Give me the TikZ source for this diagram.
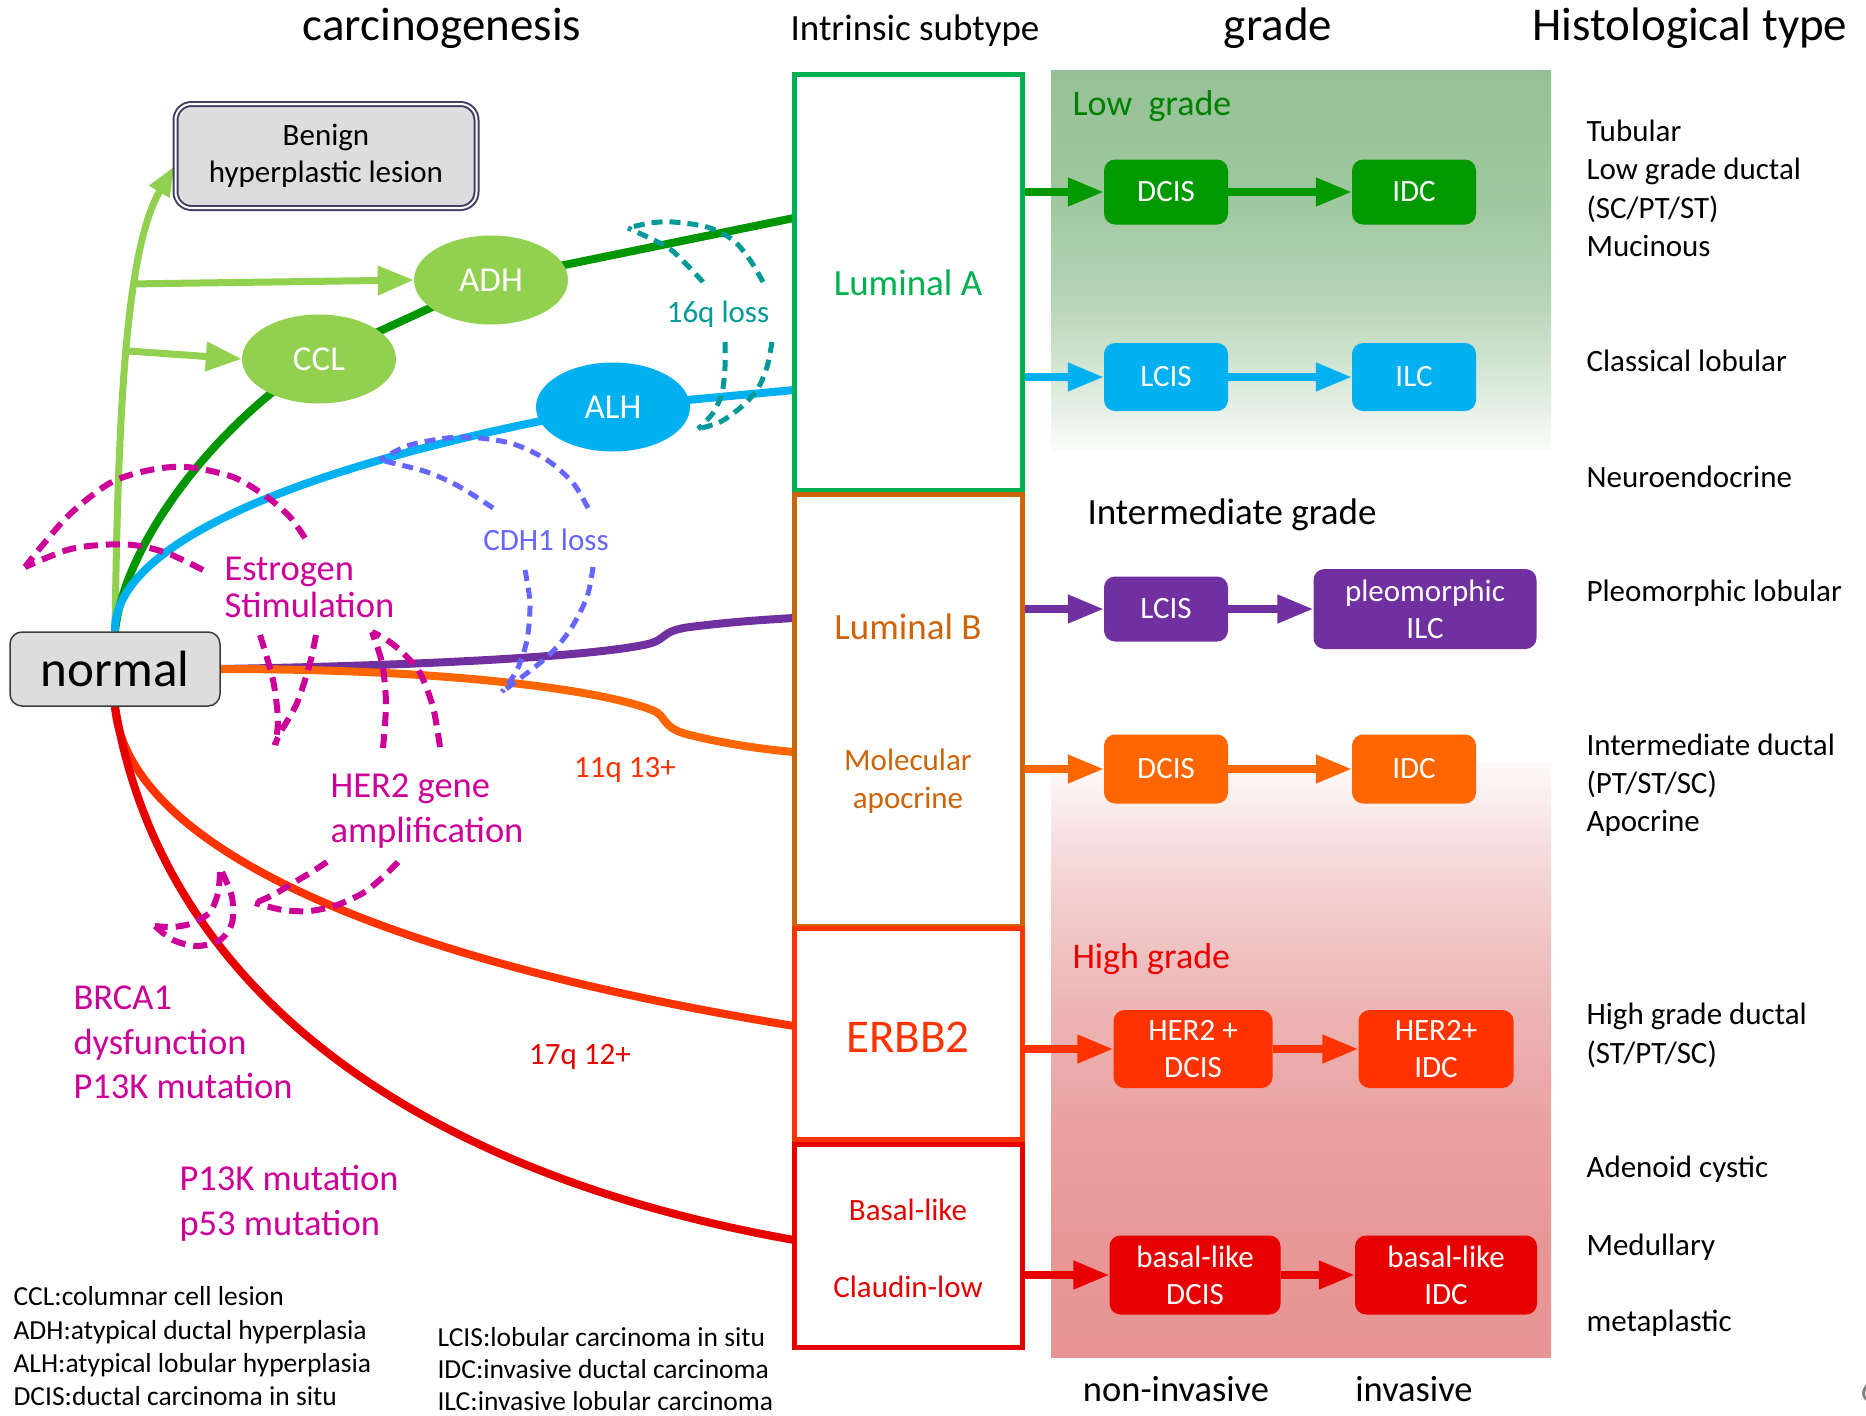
\documentclass[tikz,border=0pt]{standalone}
\usepackage{fontspec}
\setmainfont{Carlito}
\usetikzlibrary{shapes.geometric,arrows.meta,calc}

% palette
\definecolor{lgreen}{RGB}{146,208,80}
\definecolor{dgreen}{RGB}{0,150,0}
\definecolor{boxgreen}{RGB}{0,153,0}
\definecolor{sky}{RGB}{0,176,240}
\definecolor{purp}{RGB}{112,48,160}
\definecolor{orng}{RGB}{255,102,0}
\definecolor{orred}{RGB}{255,51,0}
\definecolor{bred}{RGB}{230,0,0}
\definecolor{lumA}{RGB}{0,176,80}
\definecolor{lumB}{RGB}{205,100,10}
\definecolor{mag}{RGB}{204,0,153}
\definecolor{cdh}{RGB}{102,102,255}
\definecolor{qteal}{RGB}{0,153,153}
\definecolor{lowtxt}{RGB}{0,128,0}
\definecolor{hightxt}{RGB}{235,0,0}
\definecolor{boxgray}{RGB}{221,221,221}
\definecolor{navy}{RGB}{64,64,100}
\definecolor{ngray}{RGB}{60,60,60}
% shading stops
\definecolor{lo0}{RGB}{250,252,250}
\definecolor{lo1}{RGB}{222,236,222}
\definecolor{lo2}{RGB}{182,212,182}
\definecolor{lo3}{RGB}{160,200,160}
\definecolor{lo4}{RGB}{150,192,150}
\definecolor{hi0}{RGB}{232,148,148}
\definecolor{hi1}{RGB}{232,151,151}
\definecolor{hi2}{RGB}{234,162,162}
\definecolor{hi3}{RGB}{237,182,182}
\definecolor{hi4}{RGB}{243,210,210}
\definecolor{hi5}{RGB}{254,250,250}

\pgfdeclareverticalshading{lowfade}{100bp}{color(0bp)=(lo0); color(25bp)=(lo0); color(32.5bp)=(lo1); color(45bp)=(lo2); color(57.5bp)=(lo3); color(75bp)=(lo4); color(100bp)=(lo4)}
\pgfdeclareverticalshading{highfade}{100bp}{color(0bp)=(hi0); color(25bp)=(hi0); color(35bp)=(hi1); color(45bp)=(hi2); color(55bp)=(hi3); color(65bp)=(hi4); color(75bp)=(hi5); color(100bp)=(hi5)}

\pgfdeclarelayer{back}
\pgfdeclarelayer{mid}
\pgfsetlayers{back,mid,main}

\newcommand\fsz[2]{\fontsize{#1}{#2}\selectfont}

\begin{document}
\begin{tikzpicture}[x=1pt,y=-1pt,
  subbox/.style={draw, line width=5pt, fill=white, minimum width=228pt, inner sep=0pt},
  stage/.style={rounded corners=11pt, text=white, inner sep=0pt, align=center, font=\fsz{31}{37}},
  oval/.style={ellipse, minimum width=154pt, minimum height=89pt, inner sep=0pt, text=white, font=\fsz{35}{42}},
  flow/.style={line width=7.5pt, -{Triangle[length=36pt,width=27pt]}},
  trunk/.style={line width=8pt},
  dsh/.style={line width=6pt, dash pattern=on 14pt off 8pt},
  dshq/.style={line width=5pt, dash pattern=on 11pt off 7pt},
  hist/.style={anchor=base west, font=\fsz{31}{37}},
  note/.style={anchor=base west, font=\fsz{27.5}{33}},
  cause/.style={anchor=base west, text=mag, font=\fsz{36.5}{44}},
  ttl/.style={anchor=base, font=\fsz{47}{56}}]

\useasboundingbox (0,0) rectangle (1866,1416);

% background panels
\begin{pgfonlayer}{back}
  \fill[white] (0,0) rectangle (1866,1416);
  \shade[shading=lowfade] (1051,70) rectangle (1551,450);
  \shade[shading=highfade] (1051,762) rectangle (1551,1357);
\end{pgfonlayer}

% column headings
\node[ttl] (hCarc) at (442,40) {carcinogenesis};
\node[anchor=base, font=\fsz{37}{44}] (hSub) at (915,40) {Intrinsic subtype};
\node[ttl] (hGrade) at (1278,40) {grade};
\node[ttl] (hHist) at (1690,40) {Histological type};

% start and benign boxes
\node[draw=ngray, fill=boxgray, rounded corners=12pt, line width=1.5pt,
      minimum width=210pt, minimum height=74pt, inner sep=0pt, font=\fsz{51}{60}] (normal) at (115,669) {normal};
\node[draw=navy, double=white, double distance=2pt, line width=2pt, fill=boxgray,
      rounded corners=16pt, minimum width=301pt, minimum height=104pt, inner sep=0pt,
      align=center, font=\fsz{31}{37}] (Benign) at (326,156) {Benign\\hyperplastic lesion};

% precursor lesions
\node[oval, fill=lgreen] (ADH) at (491,280) {ADH};
\node[oval, fill=lgreen] (CCL) at (319,359) {CCL};
\node[oval, fill=sky] (ALH) at (613,407) {ALH};

% intrinsic subtype boxes
\node[subbox, draw=lumA, minimum height=416pt] (LumA) at (908,282) {};
\node[subbox, draw=lumB, minimum height=432pt] (LumB) at (908,710) {};
\node[subbox, draw=orred, minimum height=211pt] (ERBB) at (908,1034) {};
\node[subbox, draw=bred, minimum height=203pt] (Basal) at (908,1246) {};
\node[anchor=base, text=lumA, font=\fsz{37}{44}] (tLumA) at (908,295) {Luminal A};
\node[anchor=base, text=lumB, font=\fsz{37}{44}] (tLumB) at (908,639) {Luminal B};
\node[anchor=base, text=lumB, font=\fsz{31}{37}] (tMol) at (908,770) {Molecular};
\node[anchor=base, text=lumB, font=\fsz{31}{37}] (tApo) at (908,808) {apocrine};
\node[anchor=base, text=orred, font=\fsz{47}{56}] (tErbb) at (908,1052) {ERBB2};
\node[anchor=base, text=bred, font=\fsz{31}{37}] (tBasal) at (908,1220) {Basal-like};
\node[anchor=base, text=bred, font=\fsz{31}{37}] (tClaud) at (908,1297) {Claudin-low};

% grade labels
\node[anchor=base west, text=lowtxt, font=\fsz{36}{43}] (gLow) at (1069,115) {Low\ \ grade};
\node[anchor=base west, font=\fsz{37}{44}] (gInt) at (1084,524) {Intermediate grade};
\node[anchor=base west, text=hightxt, font=\fsz{36}{43}] (gHigh) at (1069,968) {High grade};
\node[anchor=base, font=\fsz{36.5}{44}] (gNon) at (1176,1401) {non-invasive};
\node[anchor=base, font=\fsz{36.5}{44}] (gInv) at (1414,1401) {invasive};

% non-invasive and invasive stages
\node[stage, fill=boxgreen, minimum width=124pt, minimum height=65pt] (gDCIS) at (1166,192) {DCIS};
\node[stage, fill=boxgreen, minimum width=124pt, minimum height=65pt] (gIDC) at (1414,192) {IDC};
\node[stage, fill=sky, minimum width=124pt, minimum height=68pt] (bLCIS) at (1166,377) {LCIS};
\node[stage, fill=sky, minimum width=124pt, minimum height=68pt] (bILC) at (1414,377) {ILC};
\node[stage, fill=purp, minimum width=124pt, minimum height=65pt] (pLCIS) at (1166,609) {LCIS};
\node[stage, fill=purp, minimum width=223pt, minimum height=80pt] (pILC) at (1425,609) {pleomorphic\\ILC};
\node[stage, fill=orng, minimum width=124pt, minimum height=69pt] (oDCIS) at (1166,769) {DCIS};
\node[stage, fill=orng, minimum width=124pt, minimum height=69pt] (oIDC) at (1414,769) {IDC};
\node[stage, fill=orred, minimum width=159pt, minimum height=78pt] (hDCIS) at (1193,1049) {HER2 +\\DCIS};
\node[stage, fill=orred, minimum width=155pt, minimum height=78pt] (hIDC) at (1436,1049) {HER2+\\IDC};
\node[stage, fill=bred, minimum width=171pt, minimum height=79pt] (kDCIS) at (1195,1275) {basal-like\\DCIS};
\node[stage, fill=bred, minimum width=182pt, minimum height=79pt] (kIDC) at (1446,1275) {basal-like\\IDC};

% progression arrows
\draw[flow, boxgreen] (LumA.east |- gDCIS.west) -- (gDCIS.west);
\draw[flow, boxgreen] (gDCIS.east) -- (gIDC.west);
\draw[flow, sky] (LumA.east |- bLCIS.west) -- (bLCIS.west);
\draw[flow, sky] (bLCIS.east) -- (bILC.west);
\draw[flow, purp] (LumB.east |- pLCIS.west) -- (pLCIS.west);
\draw[flow, purp] (pLCIS.east) -- (pILC.west);
\draw[flow, orng] (LumB.east |- oDCIS.west) -- (oDCIS.west);
\draw[flow, orng] (oDCIS.east) -- (oIDC.west);
\draw[flow, orred] (ERBB.east |- hDCIS.west) -- (hDCIS.west);
\draw[flow, orred] (hDCIS.east) -- (hIDC.west);
\draw[flow, bred] (Basal.east |- kDCIS.west) -- (kDCIS.west);
\draw[flow, bred] (kDCIS.east) -- (kIDC.west);

% histological types
\node[hist] (r1) at (1583,141) {Tubular};
\node[hist] (r2) at (1583,179) {Low grade ductal};
\node[hist] (r3) at (1583,218) {(SC/PT/ST)};
\node[hist] (r4) at (1583,256) {Mucinous};
\node[hist] (r5) at (1583,371) {Classical lobular};
\node[hist] (r6) at (1583,487) {Neuroendocrine};
\node[hist] (r7) at (1583,601) {Pleomorphic lobular};
\node[hist] (r8) at (1583,755) {Intermediate ductal};
\node[hist] (r9) at (1583,793) {(PT/ST/SC)};
\node[hist] (r10) at (1583,831) {Apocrine};
\node[hist] (r11) at (1583,1024) {High grade ductal};
\node[hist] (r12) at (1583,1063) {(ST/PT/SC)};
\node[hist] (r13) at (1583,1177) {Adenoid cystic};
\node[hist] (r14) at (1583,1255) {Medullary};
\node[hist] (r15) at (1583,1331) {metaplastic};
\node[anchor=base west, text=gray, font=\fsz{36}{43}] (pg) at (1857,1401) {6};

% drivers
\node[cause] (cE1) at (221,580) {Estrogen};
\node[cause] (cE2) at (221,617) {Stimulation};
\node[cause] (cH1) at (327,797) {HER2 gene};
\node[cause] (cH2) at (327,842) {amplification};
\node[cause] (cB1) at (70,1009) {BRCA1};
\node[cause] (cB2) at (70,1054) {dysfunction};
\node[cause] (cB3) at (70,1098) {P13K mutation};
\node[cause] (cP1) at (176,1190) {P13K mutation};
\node[cause] (cP2) at (176,1235) {p53 mutation};
\node[anchor=base, text=cdh, font=\fsz{31}{37}] (cCdh) at (546,550) {CDH1 loss};
\node[anchor=base, text=qteal, font=\fsz{31}{37}] (c16) at (718,322) {16q loss};
\node[anchor=base, text=orred, font=\fsz{31}{37}] (c11) at (625,777) {11q 13+};
\node[anchor=base, text=bred, font=\fsz{31}{37}] (c17) at (580,1064) {17q 12+};

% abbreviations
\node[note] (n1) at (10,1305) {CCL:columnar cell lesion};
\node[note] (n2) at (10,1339) {ADH:atypical ductal hyperplasia};
\node[note] (n3) at (10,1372) {ALH:atypical lobular hyperplasia};
\node[note] (n4) at (10,1405) {DCIS:ductal carcinoma in situ};
\node[note] (n5) at (434,1346) {LCIS:lobular carcinoma in situ};
\node[note] (n6) at (434,1378) {IDC:invasive ductal carcinoma};
\node[note] (n7) at (434,1410) {ILC:invasive lobular carcinoma};

% pathway endpoints on the subtype boxes
\coordinate (gA) at (794,218);
\coordinate (bA) at (794,390);
\coordinate (pA) at (794,618);
\coordinate (oA) at (794,752);
\coordinate (eA) at (794,1026);
\coordinate (kA) at (794,1240);

% pathways from normal tissue
\begin{pgfonlayer}{mid}
  \draw[lgreen, line width=7pt, -{Triangle[length=30pt,width=22pt]}]
    (normal.north) .. controls (118,420) and (125,250) .. ([yshift=-10pt]Benign.west)
    coordinate[pos=0.5] (lgC) coordinate[pos=0.65] (lgA);
  \draw[lgreen, line width=7pt, -{Triangle[length=36pt,width=28pt]}] (lgA) -- (ADH.west);
  \draw[lgreen, line width=7pt, -{Triangle[length=36pt,width=28pt]}] (lgC) -- (CCL.west);
  \draw[trunk, dgreen] (normal.north) .. controls (125,540) and (220,420) .. (CCL.center) -- (ADH.center) -- (gA);
  \draw[trunk, sky] (normal.north) .. controls (113,560) and (240,475) .. (ALH.center) -- (bA);
  \draw[trunk, purp] (normal.east) .. controls (450,665) and (600,655) .. (648,644)
    .. controls (668,639) and (660,631) .. (690,627) .. controls (730,622) and (760,620) .. (pA);
  \draw[trunk, orng] (normal.east) .. controls (450,669) and (600,690) .. (652,710)
    .. controls (668,716) and (660,728) .. (690,735) .. controls (730,745) and (770,750) .. (oA);
  \draw[trunk, orred] (normal.south) .. controls (125,830) and (330,950) .. (eA);
  \draw[trunk, bred] (normal.south) .. controls (160,980) and (400,1170) .. (kA);
\end{pgfonlayer}

% dashed curved arrows of the genetic events
\draw[dsh, mag] plot[smooth] coordinates {(305,538) (290,517) (267,497) (233,477) (187,467) (150,470) (110,483) (67,517) (25,567)};
\draw[dsh, mag] plot[smooth] coordinates {(203,570) (167,553) (133,545) (100,545) (67,550) (25,567)};
\draw[dsh, mag] plot[smooth] coordinates {(260,635) (273,680) (278,720) (275,745)};
\draw[dsh, mag] plot[smooth] coordinates {(316,635) (310,663) (297,703) (280,733) (275,745)};
\draw[dsh, mag] plot[smooth] coordinates {(383,748) (386,703) (382,663) (372,632)};
\draw[dsh, mag] plot[smooth] coordinates {(440,747) (433,707) (420,673) (403,653) (387,640) (372,632)};
\draw[dsh, mag] plot[smooth] coordinates {(327,862) (310,873) (293,883) (273,895) (255,903)};
\draw[dsh, mag] plot[smooth] coordinates {(398,862) (383,877) (363,893) (337,905) (310,911) (283,910) (255,903)};
\draw[dsh, mag] plot[smooth] coordinates {(220,872) (218,893) (210,912) (193,923) (173,927) (155,926)};
\draw[dsh, mag] plot[smooth] coordinates {(222,872) (232,897) (232,923) (220,940) (197,946) (173,940) (155,926)};

\draw[dshq, cdh] plot[smooth] coordinates {(588,508) (573,483) (547,460) (510,443) (460,437) (410,445) (380,460)};
\draw[dshq, cdh] plot[smooth] coordinates {(493,508) (460,487) (427,472) (380,460)};
\draw[dshq, cdh] plot[smooth] coordinates {(525,570) (530,603) (527,640) (517,670) (502,692)};
\draw[dshq, cdh] plot[smooth] coordinates {(593,567) (587,597) (570,630) (547,657) (502,692)};

\draw[dshq, qteal] plot[smooth] coordinates {(763,282) (750,260) (733,240) (707,227) (673,222) (650,223) (628,228)};
\draw[dshq, qteal] plot[smooth] coordinates {(703,282) (687,265) (667,247) (628,228)};
\draw[dshq, qteal] plot[smooth] coordinates {(725,342) (725,367) (722,393) (713,413) (698,429)};
\draw[dshq, qteal] plot[smooth] coordinates {(772,342) (767,367) (757,390) (740,408) (720,422) (698,429)};

\end{tikzpicture}
\end{document}
